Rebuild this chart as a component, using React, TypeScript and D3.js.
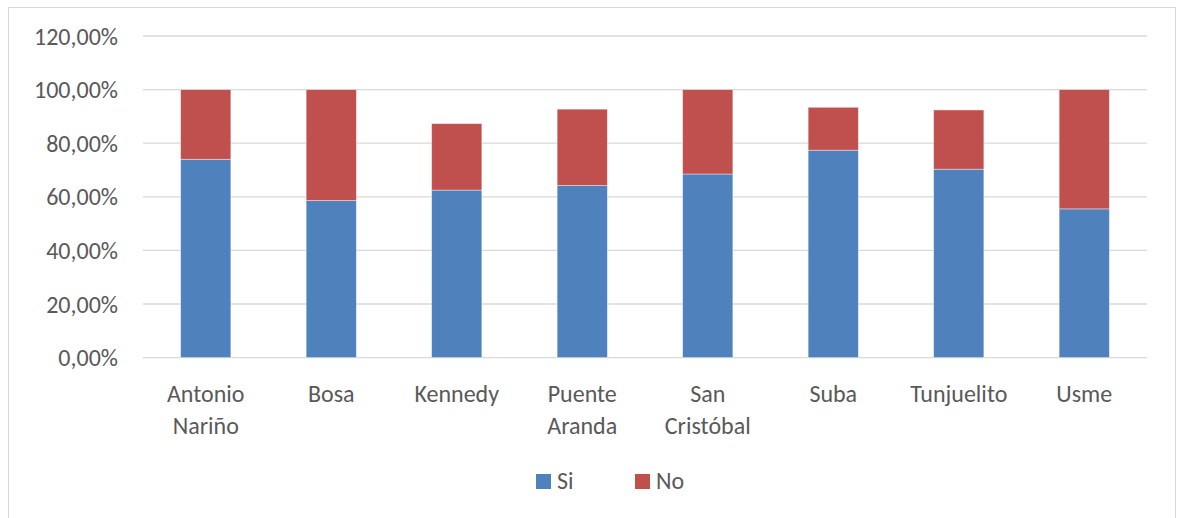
import React from "react";
import * as d3 from "d3";

const categories = [
  ["Antonio", "Nariño"],
  ["Bosa"],
  ["Kennedy"],
  ["Puente", "Aranda"],
  ["San", "Cristóbal"],
  ["Suba"],
  ["Tunjuelito"],
  ["Usme"],
];
const categoryKeys = categories.map((c) => c.join(" "));
const siValues = [0.74, 0.586, 0.625, 0.642, 0.685, 0.774, 0.703, 0.555];
const noValues = [0.26, 0.414, 0.248, 0.285, 0.315, 0.16, 0.221, 0.445];
const yTicks = [0, 0.2, 0.4, 0.6, 0.8, 1.0, 1.2];
const seriesNames = ["Si", "No"];
const seriesColors = ["#4F81BD", "#C0504D"];

const W = 1179;
const H = 518;
const FONT = "Carlito, Calibri, Lato, sans-serif";
const TEXT = "#595959";
const FS = 24;

export default function App() {
  const x = d3
    .scaleBand<string>()
    .domain(categoryKeys)
    .range([143, 1147])
    .paddingInner(0.6)
    .paddingOuter(0.3);
  const y = d3.scaleLinear().domain([0, 1.2]).range([357.6, 36]);

  const rows = categoryKeys.map((k, i) => ({ key: k, Si: siValues[i], No: noValues[i] }));
  const stacked = d3.stack<any>().keys(seriesNames)(rows);
  const fmt = (v: number) => (v * 100).toFixed(2).replace(".", ",") + "%";

  return (
    <svg
      width={W}
      height={H}
      style={{ position: "absolute", left: 0, top: 0, background: "#fff" }}
      fontFamily={FONT}
    >
      <rect x={8.5} y={7.5} width={1167} height={520} fill="#fff" stroke="#D9D9D9" strokeWidth={1} />
      {yTicks.map((t) => (
        <g key={t}>
          <line x1={143} x2={1147} y1={y(t)} y2={y(t)} stroke="#D9D9D9" strokeWidth={1.3} />
          <text x={118} y={y(t)} dy="0.36em" textAnchor="end" fontSize={FS} fill={TEXT}>
            {fmt(t)}
          </text>
        </g>
      ))}
      {stacked.map((s, si) => (
        <g key={s.key} fill={seriesColors[si]}>
          {s.map((d, i) => (
            <rect
              key={i}
              x={x(categoryKeys[i])}
              width={x.bandwidth()}
              y={y(d[1])}
              height={y(d[0]) - y(d[1])}
              stroke="#fff"
              strokeOpacity={0.5}
              strokeWidth={0.8}
            />
          ))}
        </g>
      ))}
      {categories.map((lines, i) => (
        <text
          key={i}
          x={(x(categoryKeys[i]) as number) + x.bandwidth() / 2}
          y={401.5}
          textAnchor="middle"
          fontSize={FS}
          fill={TEXT}
        >
          {lines.map((l, j) => (
            <tspan key={j} x={(x(categoryKeys[i]) as number) + x.bandwidth() / 2} dy={j === 0 ? 0 : 32}>
              {l}
            </tspan>
          ))}
        </text>
      ))}
      {seriesNames.map((n, i) => (
        <g key={n} transform={`translate(${536 + i * 99},474)`}>
          <rect width={15} height={15} fill={seriesColors[i]} />
          <text x={21} y={15} fontSize={FS} fill={TEXT}>
            {n}
          </text>
        </g>
      ))}
    </svg>
  );
}
